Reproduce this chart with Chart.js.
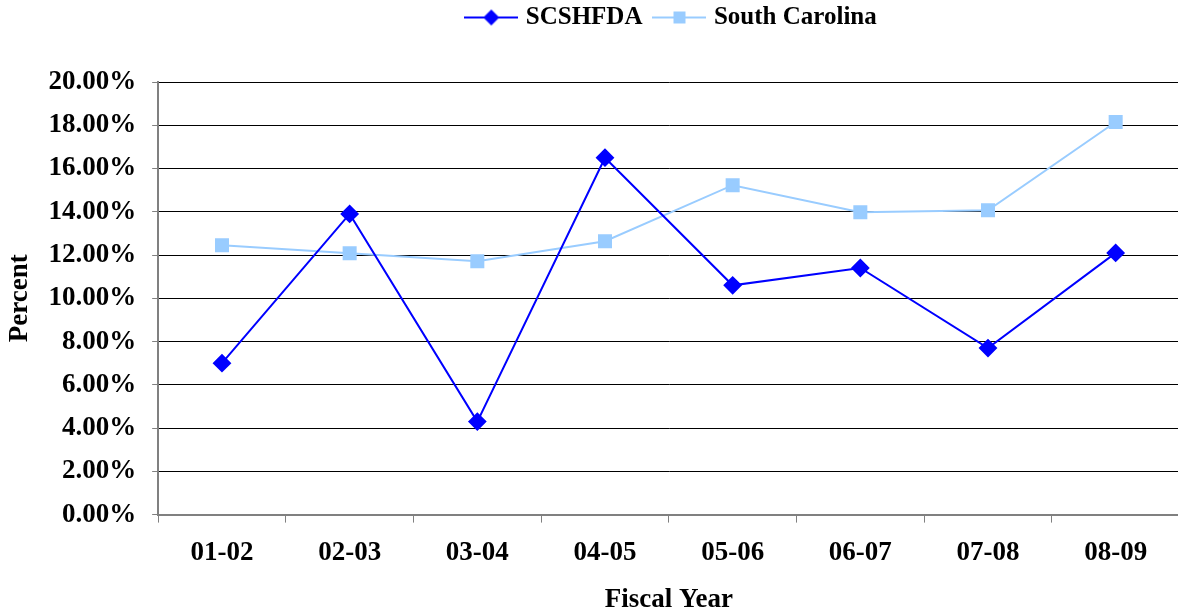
<!DOCTYPE html>
<html>
<head>
<meta charset="utf-8">
<script src="https://cdn.jsdelivr.net/npm/chart.js@4/dist/chart.umd.min.js"></script>
<style>
  html, body { margin: 0; padding: 0; background: #fff; overflow: hidden; }
  #wrap { width: 1190px; height: 611px; position: relative; }
</style>
</head>
<body>
<div id="wrap"><canvas id="chart"></canvas></div>
<script>
// fiscal years on the x axis
const years = ['01-02', '02-03', '03-04', '04-05', '05-06', '06-07', '07-08', '08-09']
// values in percent
const scshfda = [7.0, 13.9, 4.3, 16.5, 10.6, 11.4, 7.7, 12.1]
const southCarolina = [12.45, 12.08, 11.71, 12.64, 15.23, 13.98, 14.07, 18.15]

const serif = "'Liberation Serif', 'Times New Roman', serif"

// legend swatch: a short line with the marker in the middle, like Excel draws it
const swatch = (color, style) => {
  const c = document.createElement('canvas')
  c.width = 54
  c.height = 18
  const g = c.getContext('2d')
  g.strokeStyle = color
  g.lineWidth = 2
  g.beginPath()
  g.moveTo(0, 9)
  g.lineTo(54, 9)
  g.stroke()
  g.fillStyle = color
  g.beginPath()
  if (style === 'diamond') {
    g.moveTo(27, 1); g.lineTo(35, 9); g.lineTo(27, 17); g.lineTo(19, 9)
  } else {
    g.rect(21, 3, 12, 12)
  }
  g.fill()
  return c
}

// push the plot down below the legend, and nudge the legend right like the original
const legendGap = {
  id: 'legendGap',
  beforeInit(chart) {
    const fit = chart.legend.fit
    chart.legend.fit = function () {
      fit.bind(chart.legend)()
      this.height += 42
    }
  },
  afterLayout(chart) {
    chart.legend.left += 78
    chart.legend.right += 78
  },
}

const lineChart = (ctx) => {
  return new Chart(ctx, {
    type: 'line',
    data: {
      labels: years,
      datasets: [
        {
          label: 'SCSHFDA',
          data: scshfda,
          borderColor: '#0000FF',
          backgroundColor: '#0000FF',
          borderWidth: 2,
          pointStyle: 'rectRot',
          pointRadius: 8,
          pointHoverRadius: 8,
          tension: 0,
          fill: false,
        },
        {
          label: 'South Carolina',
          data: southCarolina,
          borderColor: '#99CCFF',
          backgroundColor: '#99CCFF',
          borderWidth: 2,
          pointStyle: 'rect',
          pointRadius: 8.5,
          pointHoverRadius: 8.5,
          tension: 0,
          fill: false,
        },
      ],
    },
    plugins: [legendGap],
    options: {
      responsive: true,
      maintainAspectRatio: false,
      animation: false,
      layout: { padding: { left: 4, right: 4, top: -10, bottom: 0 } },
      plugins: {
        tooltip: { enabled: false },
        legend: {
          position: 'top',
          labels: {
            color: '#000',
            font: { family: serif, size: 25, weight: 'bold' },
            usePointStyle: true,
            pointStyleWidth: 44,
            padding: 15,
            generateLabels: (chart) => chart.data.datasets.map((ds, i) => ({
              text: ds.label,
              fillStyle: ds.borderColor,
              strokeStyle: ds.borderColor,
              fontColor: '#000',
              lineWidth: 0,
              pointStyle: swatch(ds.borderColor, i === 0 ? 'diamond' : 'square'),
              datasetIndex: i,
              hidden: false,
            })),
          },
        },
      },
      scales: {
        x: {
          offset: true,
          grid: {
            offset: true,
            drawOnChartArea: false,
            drawTicks: true,
            tickLength: 8,
            tickColor: '#808080',
          },
          border: { color: '#808080', width: 2 },
          ticks: {
            color: '#000',
            font: { family: serif, size: 27, weight: 'bold' },
            padding: 14,
          },
          title: {
            display: true,
            text: 'Fiscal Year',
            color: '#000',
            font: { family: serif, size: 27, weight: 'bold', lineHeight: 1 },
            padding: { top: 4, bottom: -3 },
          },
        },
        y: {
          min: 0,
          max: 20,
          afterFit: (s) => { s.width -= 12 },
          grid: {
            color: '#000',
            lineWidth: 1,
            tickLength: 6,
            tickColor: '#808080',
          },
          border: { color: '#808080', width: 2 },
          ticks: {
            stepSize: 2,
            color: '#000',
            font: { family: serif, size: 27, weight: 'bold' },
            padding: 16,
            callback: (v) => v.toFixed(2) + '%',
          },
          title: {
            display: true,
            text: 'Percent',
            color: '#000',
            font: { family: serif, size: 27, weight: 'bold' },
            padding: { top: 0, bottom: 8 },
          },
        },
      },
    },
  })
}

lineChart(document.getElementById('chart'))
</script>
</body>
</html>
